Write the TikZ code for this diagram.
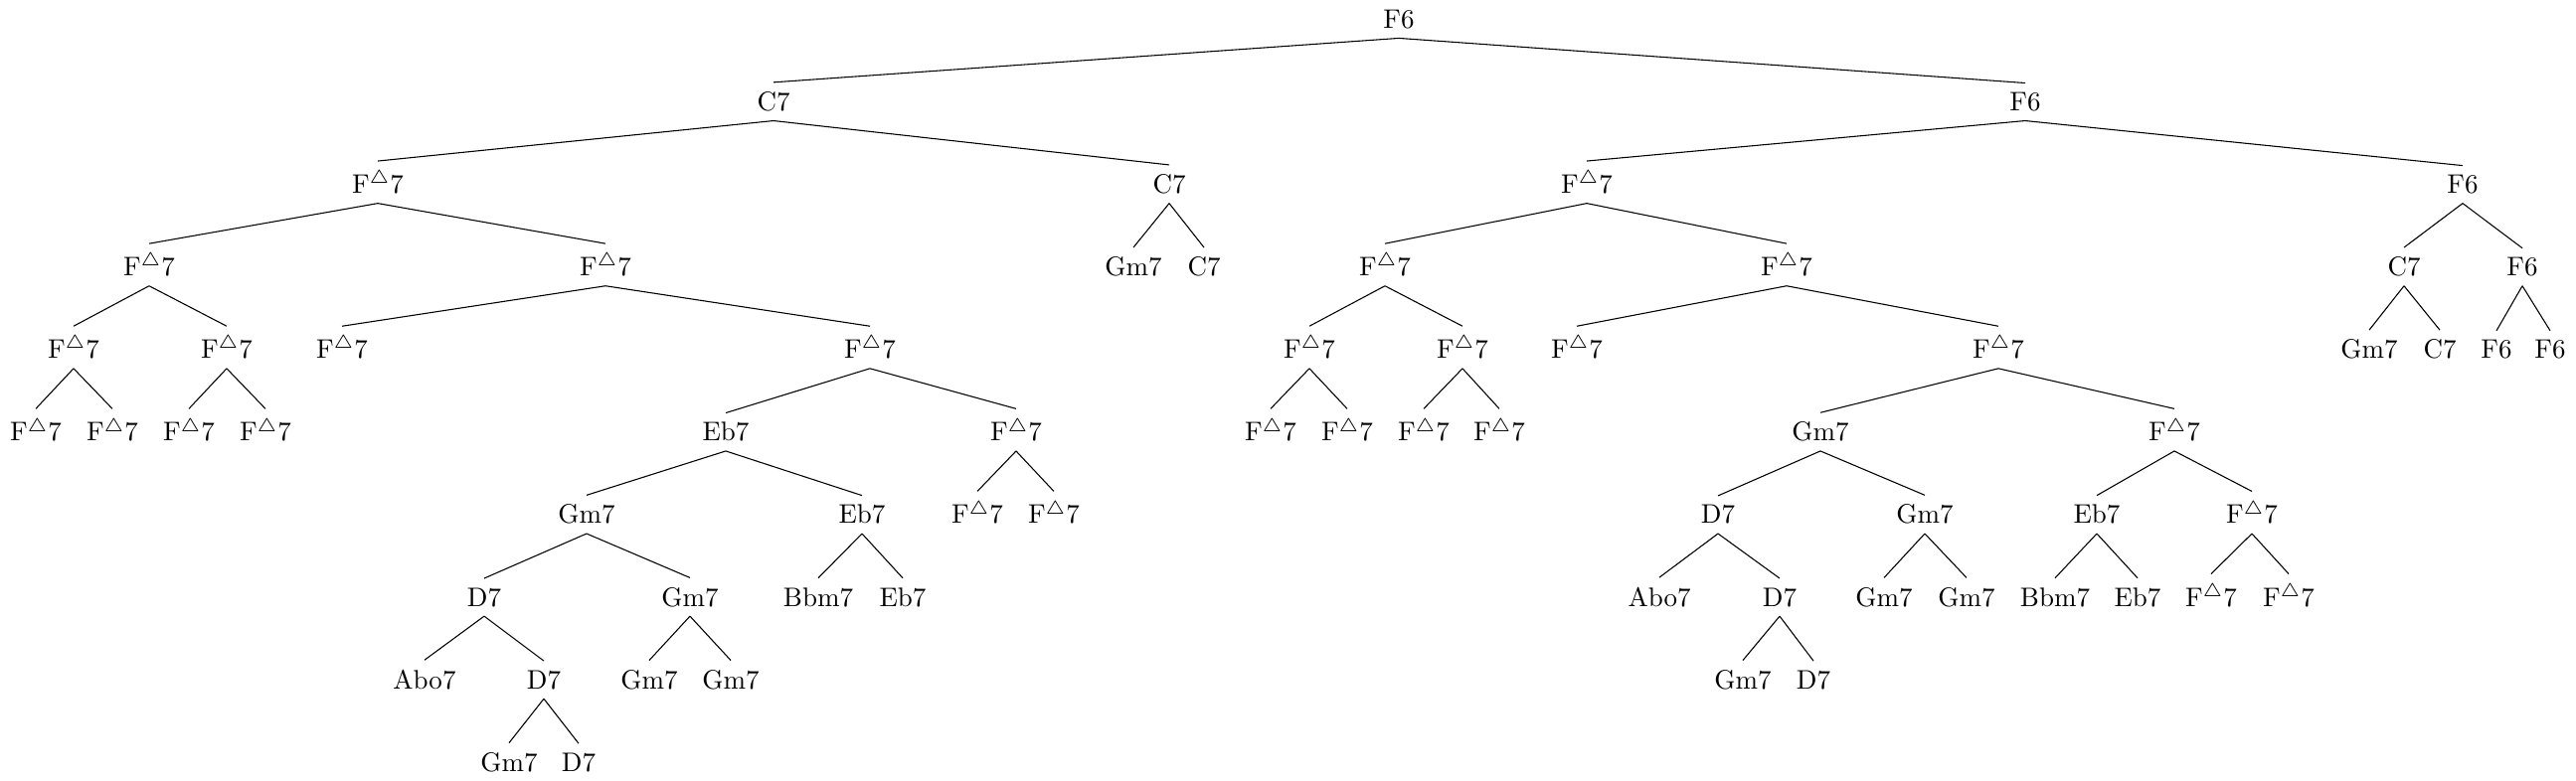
\documentclass[tikz,border=0pt]{standalone}
\newcommand\maj{F$^{\triangle}$7}
\begin{document}
\begin{tikzpicture}[x=0.37037pt,y=-0.37037pt,
  lab/.style={anchor=base,inner sep=3.33pt},
  branch/.style={draw,line width=0.4pt}]
\useasboundingbox (0,0) rectangle (2591,785);
% level 0
\node[lab] (r) at (1407,28.3) {F6};
% level 1
\node[lab] (a) at (778,111.4) {C7};
\node[lab] (b) at (2037,111.4) {F6};
% level 2
\node[lab] (aa) at (380,194.5) {\maj};
\node[lab] (ab) at (1176,194.5) {C7};
\node[lab] (ba) at (1596,194.5) {\maj};
\node[lab] (bb) at (2477,194.5) {F6};
% level 3
\node[lab] (aaa) at (150,277.6) {\maj};
\node[lab] (aab) at (609,277.6) {\maj};
\node[lab] (aba) at (1140,277.6) {Gm7};
\node[lab] (abb) at (1211,277.6) {C7};
\node[lab] (baa) at (1393,277.6) {\maj};
\node[lab] (bab) at (1797,277.6) {\maj};
\node[lab] (bba) at (2418,277.6) {C7};
\node[lab] (bbb) at (2537,277.6) {F6};
% level 4
\node[lab] (aaaa) at (74,360.7) {\maj};
\node[lab] (aaab) at (228,360.7) {\maj};
\node[lab] (aaba) at (344,360.7) {\maj};
\node[lab] (aabb) at (875,360.7) {\maj};
\node[lab] (baaa) at (1317,360.7) {\maj};
\node[lab] (baab) at (1471,360.7) {\maj};
\node[lab] (baba) at (1586,360.7) {\maj};
\node[lab] (babb) at (2010,360.7) {\maj};
\node[lab] (bbaa) at (2383,360.7) {Gm7};
\node[lab] (bbab) at (2454,360.7) {C7};
\node[lab] (bbba) at (2511,360.7) {F6};
\node[lab] (bbbb) at (2565,360.7) {F6};
% level 5
\node[lab] (aaaaa) at (36,443.8) {\maj};
\node[lab] (aaaab) at (113,443.8) {\maj};
\node[lab] (aaaba) at (190,443.8) {\maj};
\node[lab] (aaabb) at (267,443.8) {\maj};
\node[lab] (aabba) at (730,443.8) {Eb7};
\node[lab] (aabbb) at (1022,443.8) {\maj};
\node[lab] (baaaa) at (1278,443.8) {\maj};
\node[lab] (baaab) at (1355,443.8) {\maj};
\node[lab] (baaba) at (1432,443.8) {\maj};
\node[lab] (baabb) at (1508,443.8) {\maj};
\node[lab] (babba) at (1831,443.8) {Gm7};
\node[lab] (babbb) at (2187,443.8) {\maj};
% level 6
\node[lab] (aabbaa) at (590,526.9) {Gm7};
\node[lab] (aabbab) at (867,526.9) {Eb7};
\node[lab] (aabbba) at (983,526.9) {\maj};
\node[lab] (aabbbb) at (1060,526.9) {\maj};
\node[lab] (babbaa) at (1728,526.9) {D7};
\node[lab] (babbab) at (1936,526.9) {Gm7};
\node[lab] (babbba) at (2109,526.9) {Eb7};
\node[lab] (babbbb) at (2265,526.9) {\maj};
% level 7
\node[lab] (aabbaaa) at (487,610) {D7};
\node[lab] (aabbaab) at (694,610) {Gm7};
\node[lab] (aabbaba) at (823,610) {Bbm7};
\node[lab] (aabbabb) at (908,610) {Eb7};
\node[lab] (babbaaa) at (1669,610) {Abo7};
\node[lab] (babbaab) at (1790,610) {D7};
\node[lab] (babbaba) at (1895,610) {Gm7};
\node[lab] (babbabb) at (1978,610) {Gm7};
\node[lab] (babbbaa) at (2067,610) {Bbm7};
\node[lab] (babbbab) at (2150,610) {Eb7};
\node[lab] (babbbba) at (2224,610) {\maj};
\node[lab] (babbbbb) at (2302,610) {\maj};
% level 8
\node[lab] (aabbaaaa) at (427,693.1) {Abo7};
\node[lab] (aabbaaab) at (547,693.1) {D7};
\node[lab] (aabbaaba) at (653,693.1) {Gm7};
\node[lab] (aabbaabb) at (735,693.1) {Gm7};
\node[lab] (babbaaba) at (1753,693.1) {Gm7};
\node[lab] (babbaabb) at (1824,693.1) {D7};
% level 9
\node[lab] (aabbaaaba) at (512,776.2) {Gm7};
\node[lab] (aabbaaabb) at (582,776.2) {D7};
% edges
\foreach \p/\c in {r/a,r/b,
  a/aa,a/ab,b/ba,b/bb,
  aa/aaa,aa/aab,ab/aba,ab/abb,ba/baa,ba/bab,bb/bba,bb/bbb,
  aaa/aaaa,aaa/aaab,aab/aaba,aab/aabb,baa/baaa,baa/baab,bab/baba,bab/babb,
  bba/bbaa,bba/bbab,bbb/bbba,bbb/bbbb,
  aaaa/aaaaa,aaaa/aaaab,aaab/aaaba,aaab/aaabb,aabb/aabba,aabb/aabbb,
  baaa/baaaa,baaa/baaab,baab/baaba,baab/baabb,babb/babba,babb/babbb,
  aabba/aabbaa,aabba/aabbab,aabbb/aabbba,aabbb/aabbbb,
  babba/babbaa,babba/babbab,babbb/babbba,babbb/babbbb,
  aabbaa/aabbaaa,aabbaa/aabbaab,aabbab/aabbaba,aabbab/aabbabb,
  babbaa/babbaaa,babbaa/babbaab,babbab/babbaba,babbab/babbabb,
  babbba/babbbaa,babbba/babbbab,babbbb/babbbba,babbbb/babbbbb,
  aabbaaa/aabbaaaa,aabbaaa/aabbaaab,aabbaab/aabbaaba,aabbaab/aabbaabb,
  babbaab/babbaaba,babbaab/babbaabb,
  aabbaaab/aabbaaaba,aabbaaab/aabbaaabb}
  \draw[branch] (\p.south) -- (\c.north);
\end{tikzpicture}
\end{document}
